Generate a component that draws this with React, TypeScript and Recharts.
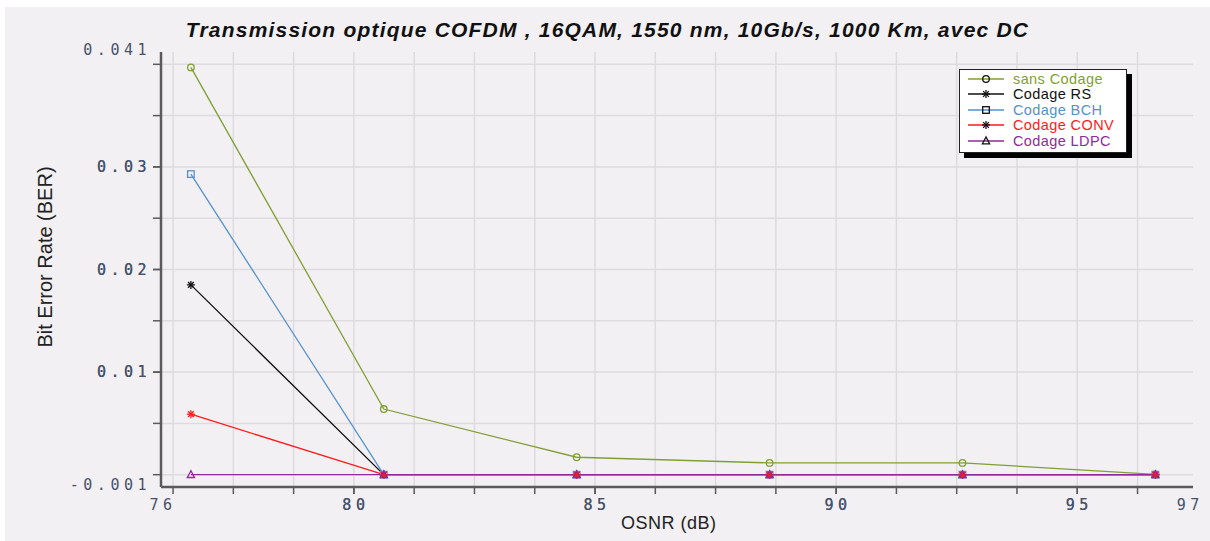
import React from "react";
import { LineChart, Line, XAxis, YAxis, CartesianGrid, Legend } from "recharts";

// OSNR (dB) sweep points
const osnr = [76.62, 80.62, 84.62, 88.62, 92.62, 96.62];

// BER per coding scheme
const sansCodage = [0.0397, 0.0064, 0.0017, 0.00115, 0.00115, 0.00003];
const codageRS = [0.0185, 0, 0, 0, 0, 0];
const codageBCH = [0.0293, 0, 0, 0, 0, 0];
const codageCONV = [0.0059, 0, 0, 0, 0, 0];
const codageLDPC = [0, 0, 0, 0, 0, 0];

// axis graduations
const xGridValues = [
  76.25, 77.5, 78.75, 80, 81.25, 82.5, 83.75, 85, 86.25, 87.5, 88.75, 90,
  91.25, 92.5, 93.75, 95, 96.25,
];
const xLabelValues = [76, 80, 85, 90, 95, 97.3];
const yGridValues = [0, 0.005, 0.01, 0.015, 0.02, 0.025, 0.03, 0.035, 0.04];
const yLabelValues = [-0.001, 0.01, 0.02, 0.03, 0.041];

const data = osnr.map((x, i) => ({
  osnr: x,
  sans: sansCodage[i],
  rs: codageRS[i],
  bch: codageBCH[i],
  conv: codageCONV[i],
  ldpc: codageLDPC[i],
}));

type Shape = "circle" | "star" | "square" | "triangle";

const SERIES: { key: string; name: string; color: string; shape: Shape }[] = [
  { key: "sans", name: "sans Codage", color: "#7f9f33", shape: "circle" },
  { key: "rs", name: "Codage RS", color: "#111111", shape: "star" },
  { key: "bch", name: "Codage BCH", color: "#5592cc", shape: "square" },
  { key: "conv", name: "Codage CONV", color: "#ff1a1a", shape: "star" },
  { key: "ldpc", name: "Codage LDPC", color: "#8e2a9a", shape: "triangle" },
];

const LABEL_COLOR = "#46526c";
const AXIS_COLOR = "#5a5a5a";
const GRID_COLOR = "#dddbde";
const BG = "#f2f0f3";
const FONT = "'Liberation Sans', Arial, sans-serif";

const near = (list: number[], v: number) => list.some((g) => Math.abs(g - v) < 1e-7);

function Marker({ cx, cy, shape, color }: { cx: number; cy: number; shape: Shape; color: string }) {
  if (cx == null || cy == null) return null;
  const sw = 1.3;
  if (shape === "circle") {
    return <circle cx={cx} cy={cy} r={3.3} fill="none" stroke={color} strokeWidth={sw} />;
  }
  if (shape === "square") {
    return <rect x={cx - 3.3} y={cy - 3.3} width={6.6} height={6.6} fill="none" stroke={color} strokeWidth={sw} />;
  }
  if (shape === "triangle") {
    return (
      <polygon
        points={`${cx},${cy - 4} ${cx - 3.6},${cy + 2.8} ${cx + 3.6},${cy + 2.8}`}
        fill="none"
        stroke={color}
        strokeWidth={sw}
      />
    );
  }
  const r = 4;
  const d = r * 0.72;
  return (
    <g stroke={color} strokeWidth={sw}>
      <line x1={cx - r} y1={cy} x2={cx + r} y2={cy} />
      <line x1={cx} y1={cy - r} x2={cx} y2={cy + r} />
      <line x1={cx - d} y1={cy - d} x2={cx + d} y2={cy + d} />
      <line x1={cx - d} y1={cy + d} x2={cx + d} y2={cy - d} />
    </g>
  );
}

function XTick(props: any) {
  const { x, y, payload } = props;
  const v = payload.value;
  return (
    <g>
      {near(xGridValues, v) && <line x1={x} y1={y} x2={x} y2={y + 7} stroke={AXIS_COLOR} strokeWidth={1.5} />}
      {near(xLabelValues, v) && (
        <text
          x={x + 2}
          y={y + 23}
          textAnchor="middle"
          fill={LABEL_COLOR}
          fontFamily="'DejaVu Sans Mono', monospace"
          fontSize={15}
          letterSpacing={4.5}
        >
          {Math.round(v)}
        </text>
      )}
    </g>
  );
}

function YTick(props: any) {
  const { x, y, payload } = props;
  const v = payload.value;
  const isTop = Math.abs(v - 0.041) < 1e-7;
  return (
    <g>
      {near(yGridValues, v) && <line x1={x - 8} y1={y} x2={x} y2={y} stroke={AXIS_COLOR} strokeWidth={1.5} />}
      {near(yLabelValues, v) && (
        <text
          x={x - 10}
          y={y + (isTop ? 1 : 5)}
          textAnchor="end"
          fill={LABEL_COLOR}
          fontFamily="'DejaVu Sans Mono', monospace"
          fontSize={15}
          letterSpacing={4.5}
        >
          {String(v)}
        </text>
      )}
    </g>
  );
}

function LegendBox() {
  return (
    <div
      style={{
        background: "#ffffff",
        border: "1.5px solid #222",
        boxShadow: "5px 5px 0 #000",
        padding: "1px 4px 3px 6px",
        width: 156,
        fontFamily: FONT,
        fontSize: 14.5,
        letterSpacing: 0.4,
      }}
    >
      {SERIES.map((s) => (
        <div key={s.key} style={{ display: "flex", alignItems: "center", height: 15.5 }}>
          <svg width={40} height={14} style={{ marginRight: 7, flex: "none" }}>
            <line x1={2} y1={7} x2={38} y2={7} stroke={s.color} strokeWidth={1.3} />
            <Marker cx={20} cy={7} shape={s.shape} color="#111" />
          </svg>
          <span style={{ color: s.color, whiteSpace: "nowrap" }}>{s.name}</span>
        </div>
      ))}
    </div>
  );
}

export default function App() {
  return (
    <div style={{ position: "absolute", left: 0, top: 0, width: 1210, height: 541, background: "#fff" }}>
      <div style={{ position: "absolute", left: 5, top: 7, width: 1205, height: 534, background: BG }}>
        <div
          style={{
            position: "absolute",
            left: 0,
            width: 1205,
            top: 11,
            textAlign: "center",
            fontFamily: FONT,
            fontWeight: "bold",
            fontStyle: "italic",
            fontSize: 21,
            letterSpacing: 1.2,
            color: "#111",
            whiteSpace: "nowrap",
          }}
        >
          Transmission optique COFDM , 16QAM, 1550 nm, 10Gb/s, 1000 Km, avec DC
        </div>
        <div
          style={{
            position: "absolute",
            left: 616,
            top: 506,
            fontFamily: FONT,
            fontSize: 18,
            color: "#222",
            letterSpacing: 0.5,
          }}
        >
          OSNR (dB)
        </div>
        <div
          style={{
            position: "absolute",
            left: 40,
            top: 250,
            transform: "translate(-50%, -50%) rotate(-90deg)",
            whiteSpace: "nowrap",
            fontFamily: FONT,
            fontSize: 20,
            color: "#222",
          }}
        >
          Bit Error Rate (BER)
        </div>
        <LineChart
          width={1205}
          height={534}
          data={data}
          margin={{ top: 45, right: 17, left: 56, bottom: 14 }}
          style={{ position: "absolute", left: 0, top: 0 }}
        >
          <CartesianGrid
            stroke={GRID_COLOR}
            strokeWidth={1.5}
            verticalValues={xGridValues}
            horizontalValues={yGridValues}
          />
          <XAxis
            dataKey="osnr"
            type="number"
            domain={[76, 97.4]}
            allowDataOverflow
            ticks={[...xLabelValues, ...xGridValues].sort((a, b) => a - b)}
            interval={0}
            tick={<XTick />}
            tickLine={false}
            tickSize={0}
            tickMargin={0}
            height={40}
            axisLine={{ stroke: AXIS_COLOR, strokeWidth: 2.5 }}
          />
          <YAxis
            type="number"
            domain={[-0.0012, 0.0412]}
            allowDataOverflow
            ticks={[...yLabelValues, ...yGridValues].sort((a, b) => a - b)}
            interval={0}
            tick={<YTick />}
            tickLine={false}
            tickSize={0}
            tickMargin={0}
            width={100}
            axisLine={{ stroke: AXIS_COLOR, strokeWidth: 2.5 }}
          />
          <Legend
            layout="vertical"
            align="center"
            verticalAlign="middle"
            wrapperStyle={{ left: 954, top: 62, width: "auto" }}
            content={() => <LegendBox />}
          />
          {SERIES.map((s) => (
            <Line
              key={s.key}
              dataKey={s.key}
              name={s.name}
              stroke={s.color}
              strokeWidth={1.3}
              isAnimationActive={false}
              dot={(p: any) => <Marker key={`${s.key}-${p.index}`} cx={p.cx} cy={p.cy} shape={s.shape} color={s.color} />}
              activeDot={false}
            />
          ))}
        </LineChart>
      </div>
    </div>
  );
}
